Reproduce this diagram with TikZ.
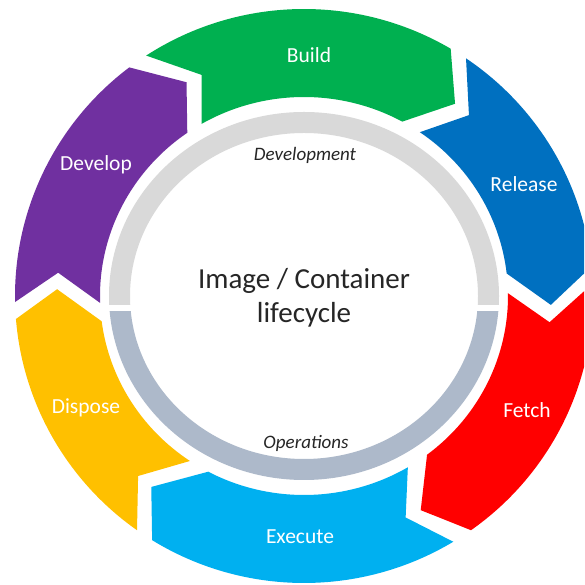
\documentclass[tikz,border=0pt]{standalone}
\usepackage{fontspec}
\setmainfont{Carlito}
\definecolor{cBuild}{HTML}{00B050}
\definecolor{cRelease}{HTML}{0070C0}
\definecolor{cFetch}{HTML}{FF0000}
\definecolor{cExecute}{HTML}{00B0F0}
\definecolor{cDispose}{HTML}{FFC000}
\definecolor{cDevelop}{HTML}{7030A0}
\definecolor{ringDev}{HTML}{D9D9D9}
\definecolor{ringOps}{HTML}{ADB9CA}
\definecolor{inkDark}{HTML}{262626}

% One chevron-shaped band of the cycle, running clockwise.
% #1 colour, #2 start outer angle, #3 start inner angle, #4 notch angle,
% #5 end outer angle, #6 end inner angle, #7 tip angle
\newcommand\chevseg[7]{%
  \fill[#1] (#2:289 and 287)
    arc[start angle=#2, end angle=#5, x radius=289, y radius=287]
    -- (#7:247 and 243) -- (#6:204 and 199)
    arc[start angle=#6, end angle=#3, x radius=204, y radius=199]
    -- (#4:247 and 243) -- cycle;}

\begin{document}
\begin{tikzpicture}[x=1pt,y=1pt,
  seglabel/.style={text=white,font=\fontsize{21.5}{24}\selectfont,inner sep=0pt},
  phase/.style={text=inkDark,font=\itshape\fontsize{19}{22}\selectfont,inner sep=0pt},
  title/.style={text=inkDark,font=\fontsize{29}{34}\selectfont,align=center,inner sep=0pt}]
\useasboundingbox (0,0) rectangle (584,585);
\clip (0,0) rectangle (584,585);
\fill[white] (0,0) rectangle (584,585);
\begin{scope}[shift={(304,289)}]
  % outer cycle of stages
  \chevseg{cBuild}{123.1}{120.1}{114.5}{59.5}{61.2}{52.3}
  \chevseg{cRelease}{55.9}{55.4}{48.1}{5.9}{6.5}{-2.1}
  \chevseg{cFetch}{2.5}{0.8}{-6.2}{-54.7}{-52.9}{-61.8}
  \chevseg{cExecute}{-58.9}{-59.4}{-65.7}{-121.7}{-118}{-128.2}
  \chevseg{cDispose}{234.7}{236}{227.8}{184.6}{187.3}{178.4}
  \chevseg{cDevelop}{181.2}{182}{174.5}{127.2}{124.9}{118.4}

  % inner ring: development half and operations half
  \begin{scope}
    \clip (-300,-9) rectangle (300,300);
    \fill[ringDev,even odd rule] (0,0) ellipse[x radius=195, y radius=184]
                                 (0,0) ellipse[x radius=174, y radius=163];
  \end{scope}
  \begin{scope}
    \clip (-300,-16) rectangle (300,-300);
    \fill[ringOps,even odd rule] (0,0) ellipse[x radius=195, y radius=184]
                                 (0,0) ellipse[x radius=174, y radius=163];
  \end{scope}

  % stage labels
  \node[seglabel] (build)   at (5,241)     {Build};
  \node[seglabel] (release) at (220,112)   {Release};
  \node[seglabel] (fetch)   at (223,-114)  {Fetch};
  \node[seglabel] (execute) at (-4,-241)   {Execute};
  \node[seglabel] (dispose) at (-218,-112) {Dispose};
  \node[seglabel] (develop) at (-208,131)  {Develop};

  % phase labels and centre title
  \node[phase] (devphase) at (1,141)   {Development};
  \node[phase] (opsphase) at (2,-147)  {Operations};
  \node[title] (lifecycle) at (0,-2) {Image / Container\\lifecycle};
\end{scope}
\end{tikzpicture}
\end{document}
